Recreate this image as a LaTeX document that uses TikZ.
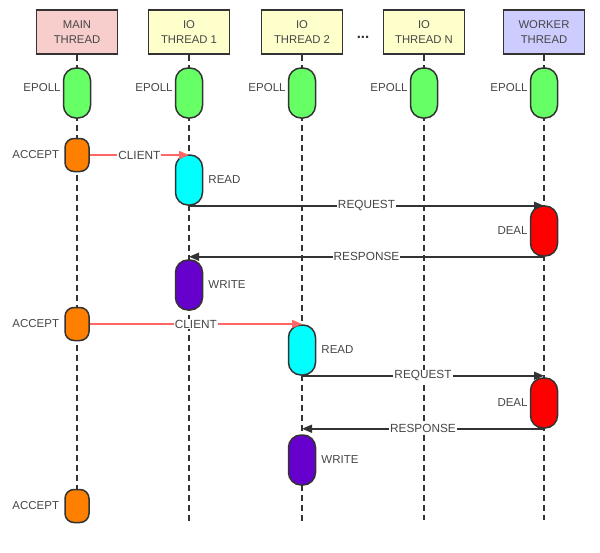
\documentclass[tikz,border=0pt]{standalone}
\usepackage{fontspec}
\setmainfont{Liberation Sans}
\usepackage{tikz}
\usetikzlibrary{arrows.meta,positioning}
\definecolor{myink}{RGB}{51,51,51}
\definecolor{mytext}{RGB}{70,70,70}
\definecolor{mymainpink}{RGB}{248,206,204}
\definecolor{myioyellow}{RGB}{255,255,204}
\definecolor{myworkerblue}{RGB}{204,204,255}
\definecolor{mygreen}{RGB}{102,255,102}
\definecolor{myorange}{RGB}{255,128,0}
\definecolor{mycyan}{RGB}{0,255,255}
\definecolor{myred}{RGB}{255,0,0}
\definecolor{mypurple}{RGB}{102,0,204}
\definecolor{mylightred}{RGB}{255,102,102}
\newcommand{\widthheader}{81pt}
\newcommand{\heightheader}{44pt}
\newcommand{\widthcapsule}{27pt}
\newcommand{\heightcapsule}{50pt}
\tikzset{
    header/.style={draw=myink, line width=1.3pt, minimum width=\widthheader, minimum height=\heightheader,
        align=center, text=mytext, font=\fontsize{11.3}{14.5}\selectfont},
    lifeline/.style={myink, line width=1.6pt, dash pattern=on 6pt off 4pt},
    capsule/.style={draw=myink, line width=1.5pt, rounded corners=12.5pt, minimum width=\widthcapsule,
        minimum height=\heightcapsule, inner sep=0pt},
    smallcapsule/.style={capsule, rounded corners=9pt, minimum width=24pt, minimum height=33pt},
    note/.style={text=mytext, font=\fontsize{11.5}{13}\selectfont, inner sep=2pt},
    call/.style={myink, line width=1.6pt, -{Triangle[length=10pt,width=8pt]}},
    handoff/.style={call, mylightred},
    msg/.style={fill=white, text=mytext, font=\fontsize{11.8}{13}\selectfont, inner sep=1pt}
}
\begin{document}
\begin{tikzpicture}[x=1pt, y=-1pt]
    \useasboundingbox (0,0) rectangle (600,552);

    % thread headers
    \node[header, fill=mymainpink] (main) at (77,32) {MAIN\\THREAD};
    \node[header, fill=myioyellow] (io1) at (189,32) {IO\\THREAD 1};
    \node[header, fill=myioyellow] (io2) at (302,32) {IO\\THREAD 2};
    \node[header, fill=myioyellow] (ioN) at (424,32) {IO\\THREAD N};
    \node[header, fill=myworkerblue] (worker) at (544,32) {WORKER\\THREAD};
    \node[text=myink, font=\fontsize{15}{15}\selectfont\bfseries] (dots) at (363,37) {...};

    \coordinate (main-end) at (77,522);
    \coordinate (io1-end) at (189,522);
    \coordinate (io2-end) at (302,522);
    \coordinate (ioN-end) at (424,520);
    \coordinate (worker-end) at (544,520);

    \draw[lifeline] (main.south) -- (main-end);
    \draw[lifeline] (io1.south) -- (io1-end);
    \draw[lifeline] (io2.south) -- (io2-end);
    \draw[lifeline] (ioN.south) -- (ioN-end);
    \draw[lifeline] (worker.south) -- (worker-end);

    % epoll on every thread
    \node[capsule, fill=mygreen, label={[note, yshift=5pt]left:EPOLL}] (epoll-main) at (77,93) {};
    \node[capsule, fill=mygreen, label={[note, yshift=5pt]left:EPOLL}] (epoll-io1) at (189,93) {};
    \node[capsule, fill=mygreen, label={[note, yshift=5pt]left:EPOLL}] (epoll-io2) at (302,93) {};
    \node[capsule, fill=mygreen, label={[note, yshift=5pt]left:EPOLL}] (epoll-ioN) at (424,93) {};
    \node[capsule, fill=mygreen, label={[note, yshift=5pt]left:EPOLL}] (epoll-worker) at (544,93) {};

    % first client
    \node[smallcapsule, fill=myorange, label={[note, xshift=-3pt]left:ACCEPT}] (accept1) at (77,155) {};
    \node[capsule, fill=mycyan, label={[note, xshift=3pt]right:READ}] (read1) at (189,180) {};
    \node[capsule, fill=myred, label={[note]left:DEAL}] (deal1) at (544,231) {};
    \node[capsule, fill=mypurple, label={[note, xshift=3pt]right:WRITE}] (write1) at (189,285) {};

    % second client
    \node[smallcapsule, fill=myorange, label={[note, xshift=-3pt]left:ACCEPT}] (accept2) at (77,324) {};
    \node[capsule, fill=mycyan, label={[note, xshift=3pt]right:READ}] (read2) at (302,350) {};
    \node[capsule, fill=myred, label={[note]left:DEAL}] (deal2) at (544,403) {};
    \node[capsule, fill=mypurple, label={[note, xshift=3pt]right:WRITE}] (write2) at (302,460) {};

    \node[smallcapsule, fill=myorange, label={[note, xshift=-3pt]left:ACCEPT}] (accept3) at (77,506) {};

    \draw[handoff] (accept1.east) -- node[msg] {CLIENT} (accept1.east -| read1.north);
    \draw[call] (read1.south) -- node[msg] {REQUEST} (read1.south -| deal1.north);
    \draw[call] (deal1.south) -- node[msg] {RESPONSE} (deal1.south -| write1.north);

    \draw[handoff] (accept2.east) -- node[msg] {CLIENT} (accept2.east -| read2.north);
    \draw[call] (read2.south) -- node[msg] {REQUEST} (read2.south -| deal2.north);
    \draw[call] (deal2.south) -- node[msg] {RESPONSE} (deal2.south -| write2.north);
\end{tikzpicture}
\end{document}
